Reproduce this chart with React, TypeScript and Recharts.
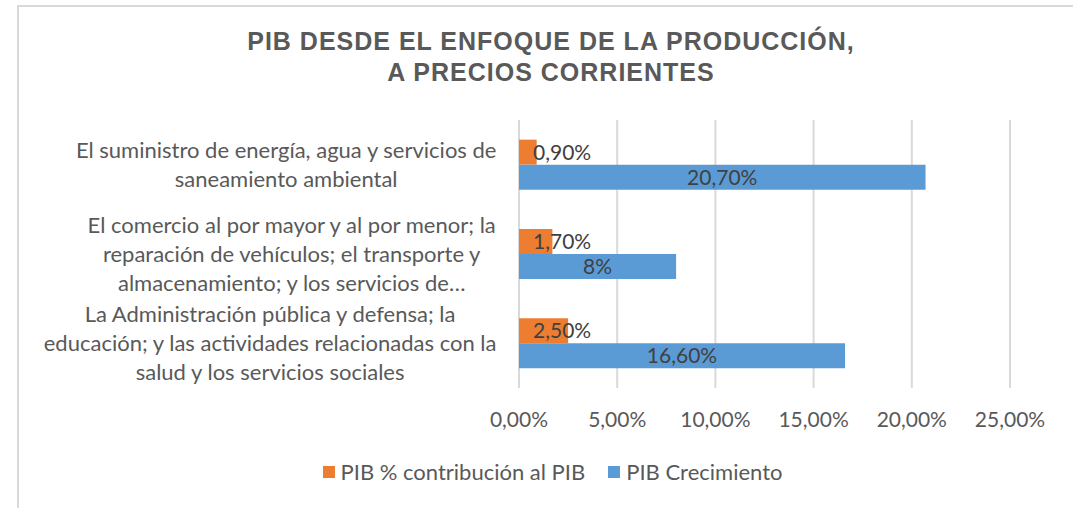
import React from "react";
import {
  BarChart,
  Bar,
  XAxis,
  YAxis,
  CartesianGrid,
  Legend,
  LabelList,
} from "recharts";

const CATEGORY_LINES: string[][] = [
  ["El suministro de energía, agua y servicios de", "saneamiento ambiental"],
  [
    "El comercio al por mayor y al por menor; la",
    "reparación de vehículos; el transporte y",
    "almacenamiento; y los servicios de…",
  ],
  [
    "La Administración pública y defensa; la",
    "educación; y las actividades relacionadas con la",
    "salud y los servicios sociales",
  ],
];
const CONTRIBUCION = [0.9, 1.7, 2.5];
const CRECIMIENTO = [20.7, 8, 16.6];
const X_TICKS = [0, 5, 10, 15, 20, 25];

const SERIES_NAMES = ["PIB % contribución al PIB", "PIB Crecimiento"];
const ORANGE = "#ED7D31";
const BLUE = "#5B9BD5";
const TEXT = "#595959";
const LABEL_TEXT = "#404040";
const FONT = "Lato, 'Open Sans', sans-serif";
const CAT_SIZE = 22;
const TICK_SIZE = 21;

const data = CATEGORY_LINES.map((lines, i) => ({
  name: lines.join(" "),
  lines,
  contribucion: CONTRIBUCION[i],
  crecimiento: CRECIMIENTO[i],
}));

const axisPct = (v: number) => `${v.toFixed(2).replace(".", ",")}%`;
const labelPct = (v: number) =>
  Number.isInteger(v) ? `${v}%` : `${v.toFixed(2).replace(".", ",")}%`;

let ctx: CanvasRenderingContext2D | null = null;
function measure(text: string): number {
  if (!ctx) ctx = document.createElement("canvas").getContext("2d");
  if (!ctx) return text.length * 10;
  ctx.font = `${CAT_SIZE}px Lato`;
  return ctx.measureText(text).width;
}

function CategoryTick(props: any) {
  const { y, payload } = props;
  const row = data.find((d) => d.name === payload.value);
  const lines = row ? row.lines : [String(payload.value)];
  const right = 497;
  const maxW = Math.max(...lines.map(measure));
  const cx = right - maxW / 2;
  const lh = 29;
  const y0 = y - ((lines.length - 1) * lh) / 2;
  return (
    <g>
      {lines.map((l, i) => (
        <text
          key={i}
          x={cx}
          y={y0 + i * lh}
          dy="0.35em"
          textAnchor="middle"
          fill={TEXT}
          fontSize={CAT_SIZE}
          fontFamily={FONT}
        >
          {l}
        </text>
      ))}
    </g>
  );
}

function OrangeLabel(props: any) {
  const { x, y, height, value } = props;
  return (
    <text
      x={x + 14}
      y={y + height / 2}
      dy="0.35em"
      fill={LABEL_TEXT}
      fontSize={TICK_SIZE}
      fontFamily={FONT}
    >
      {labelPct(value)}
    </text>
  );
}

function BlueLabel(props: any) {
  const { x, y, width, height, value } = props;
  return (
    <text
      x={x + width / 2}
      y={y + height / 2}
      dy="0.35em"
      textAnchor="middle"
      fill={LABEL_TEXT}
      fontSize={TICK_SIZE}
      fontFamily={FONT}
    >
      {labelPct(value)}
    </text>
  );
}

function LegendContent() {
  const items = [
    { name: SERIES_NAMES[0], color: ORANGE },
    { name: SERIES_NAMES[1], color: BLUE },
  ];
  return (
    <div
      style={{
        display: "flex",
        justifyContent: "center",
        alignItems: "center",
        gap: 23,
        fontFamily: FONT,
        fontSize: CAT_SIZE,
        lineHeight: "28px",
        color: TEXT,
      }}
    >
      {items.map((it) => (
        <div key={it.name} style={{ display: "flex", alignItems: "center" }}>
          <span
            style={{
              display: "inline-block",
              width: 12,
              height: 12,
              background: it.color,
              marginRight: 6,
            }}
          />
          <span>{it.name}</span>
        </div>
      ))}
    </div>
  );
}

export default function App() {
  return (
    <div
      style={{
        position: "absolute",
        left: 0,
        top: 0,
        width: 1073,
        height: 508,
        background: "#fff",
        overflow: "hidden",
      }}
    >
      <div
        style={{
          position: "absolute",
          left: 17,
          top: 5,
          width: 1100,
          height: 600,
          borderTop: "2px solid #d9d9d9",
          borderLeft: "2px solid #d9d9d9",
        }}
      />
      <div
        style={{
          position: "absolute",
          left: 17,
          top: 26,
          width: 1068,
          textAlign: "center",
          fontFamily: "'Liberation Sans', Arial, sans-serif",
          fontWeight: "bold",
          fontSize: 25,
          letterSpacing: 1,
          lineHeight: "31px",
          color: TEXT,
        }}
      >
        PIB DESDE EL ENFOQUE DE LA PRODUCCIÓN,
        <br />A PRECIOS CORRIENTES
      </div>
      <div style={{ position: "absolute", left: 0, top: 0 }}>
        <BarChart
          width={1073}
          height={508}
          data={data}
          layout="vertical"
          margin={{ top: 120, right: 63, bottom: 52, left: 0 }}
          barCategoryGap="22%"
          barGap={0}
        >
          <CartesianGrid horizontal={false} stroke="#d9d9d9" strokeWidth={2} />
          <XAxis
            type="number"
            domain={[0, 25]}
            ticks={X_TICKS}
            tickFormatter={axisPct}
            axisLine={false}
            tickLine={false}
            tickMargin={18}
            height={40}
            interval={0}
            tick={{ fill: TEXT, fontSize: TICK_SIZE, fontFamily: FONT }}
          />
          <YAxis
            type="category"
            dataKey="name"
            width={519}
            axisLine={false}
            tickLine={false}
            interval={0}
            tick={<CategoryTick />}
          />
          <Legend
            verticalAlign="bottom"
            content={<LegendContent />}
            wrapperStyle={{ left: 16, width: 1073, height: 28, bottom: 22 }}
          />
          <Bar
            dataKey="contribucion"
            name={SERIES_NAMES[0]}
            fill={ORANGE}
            isAnimationActive={false}
          >
            <LabelList dataKey="contribucion" content={<OrangeLabel />} />
          </Bar>
          <Bar
            dataKey="crecimiento"
            name={SERIES_NAMES[1]}
            fill={BLUE}
            isAnimationActive={false}
          >
            <LabelList dataKey="crecimiento" content={<BlueLabel />} />
          </Bar>
        </BarChart>
      </div>
    </div>
  );
}
